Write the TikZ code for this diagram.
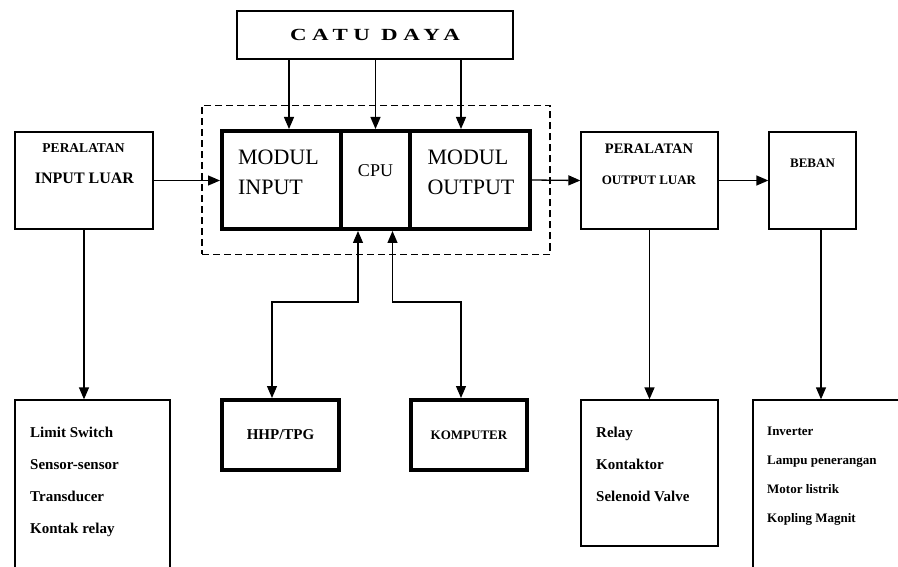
\documentclass[tikz,border=0pt]{standalone}
\usepackage{fontspec}
\setmainfont{Liberation Serif}
\usepackage{graphicx}
\usetikzlibrary{positioning,arrows.meta,fit}

\begin{document}
\begin{tikzpicture}[
		x=1pt,y=-1pt,
		thinbox/.style={
			draw,
			line width=1.3pt,
			inner sep=0pt
		},
		thickbox/.style={
			draw,
			line width=4pt,
			inner sep=0pt
		},
		txt/.style={inner sep=0pt},
		listtxt/.style={inner sep=0pt, align=left, anchor=north west},
		arr/.style={line width=1.3pt, -{Triangle[length=12pt,width=10pt]}},
		dblarr/.style={line width=1.3pt, {Triangle[length=12pt,width=10pt]}-{Triangle[length=12pt,width=10pt]}}
		]
		
		\useasboundingbox (0,0) rectangle (898,567);
		\clip (0,0) rectangle (898,567);
		
		\node (catu) [thinbox, minimum width=276pt, minimum height=48pt] at (375,35)
			{\bfseries\fontsize{17}{20}\selectfont\addfontfeatures{LetterSpace=24}\scalebox{1.35}[1]{CATU DAYA}};
		
		\node (minp) [thickbox, minimum width=119pt, minimum height=98pt] at (281.5,180) {};
		\node (cpu) [thickbox, minimum width=69pt, minimum height=98pt] at (375.5,180) {};
		\node (mout) [thickbox, minimum width=120pt, minimum height=98pt] at (470,180) {};
		\node (plc) [draw, line width=1.2pt, dash pattern=on 7pt off 4pt, inner xsep=18pt, inner ysep=23.5pt, fit=(minp)(mout)] {};
		
		\node (minptxt) [txt, align=left, font=\fontsize{22}{30}\selectfont] at (278.5,172.5) {MODUL\\INPUT};
		\node (cputxt) [txt, font=\fontsize{18}{20}\selectfont] at (375.5,171) {CPU};
		\node (mouttxt) [txt, align=left, font=\fontsize{22}{30}\selectfont] at (471,172.5) {MODUL\\OUTPUT};
		
		\node (inl) [thinbox, minimum width=138pt, minimum height=97pt] at (84,180.5) {};
		\node (inltxta) [txt, font=\bfseries\fontsize{13.5}{16}\selectfont] at (83.5,148) {PERALATAN};
		\node (inltxtb) [txt, font=\bfseries\fontsize{16}{18}\selectfont] at (84.5,178.5) {INPUT LUAR};
		
		\node (outl) [thinbox, minimum width=137pt, minimum height=97pt] at (649.5,180.5) {};
		\node (outltxta) [txt, font=\bfseries\fontsize{14.5}{16}\selectfont] at (649,148.5) {PERALATAN};
		\node (outltxtb) [txt, font=\bfseries\fontsize{13}{16}\selectfont] at (649,180.5) {OUTPUT LUAR};
		
		\node (beban) [thinbox, minimum width=87pt, minimum height=97pt] at (812.5,180.5) {};
		\node (bebantxt) [txt, font=\bfseries\fontsize{13}{16}\selectfont] at (812.5,163) {BEBAN};
		
		\node (hhp) [thickbox, minimum width=117pt, minimum height=70pt, font=\bfseries\fontsize{15}{18}\selectfont] at (280.5,435) {HHP/TPG};
		\node (komp) [thickbox, minimum width=116pt, minimum height=70pt, font=\bfseries\fontsize{13}{16}\selectfont] at (469,435) {KOMPUTER};
		
		\node (inlist) [thinbox, minimum width=155pt, minimum height=200pt] at (92.5,500) {};
		\node (inlisttxt) [listtxt, font=\bfseries\fontsize{15}{32}\selectfont] at (30,427)
			{Limit Switch\\Sensor-sensor\\Transducer\\Kontak relay};
		
		\node (outlist) [thinbox, minimum width=137pt, minimum height=146pt] at (649.5,473) {};
		\node (outlisttxt) [listtxt, font=\bfseries\fontsize{15}{32}\selectfont] at (596,427)
			{Relay\\Kontaktor\\Selenoid Valve};
		
		\node (bebanlist) [thinbox, minimum width=200pt, minimum height=200pt] at (853,500) {};
		\node (bebanlisttxt) [listtxt, font=\bfseries\fontsize{13}{29}\selectfont] at (767,427)
			{Inverter\\Lampu penerangan\\Motor listrik\\Kopling Magnit};
		
		\draw[arr] ([xshift=7.5pt]minp.north |- catu.south) -- ([xshift=7.5pt]minp.north);
		\draw[arr] (cpu.north |- catu.south) -- (cpu.north);
		\draw[arr] ([xshift=-9pt]mout.north |- catu.south) -- ([xshift=-9pt]mout.north);
		
		\draw[arr] (inl.east) -- (inl.east -| minp.west);
		\draw[arr] (mout.east) -- (outl.west);
		\draw[arr] (outl.east) -- (beban.west);
		
		\draw[arr] (inl.south) -- (inl.south |- inlist.north);
		\draw[arr] (outl.south) -- (outlist.north);
		\draw[arr] ([xshift=8.5pt]beban.south) -- ([xshift=8.5pt]beban.south |- bebanlist.north);
		
		\draw[dblarr] ([xshift=-17.5pt]cpu.south) -- ++(0,71) -| ([xshift=-8.5pt]hhp.north);
		\draw[dblarr] ([xshift=17pt]cpu.south) -- ++(0,71) -| ([xshift=-8pt]komp.north);
		
	\end{tikzpicture}
\end{document}
